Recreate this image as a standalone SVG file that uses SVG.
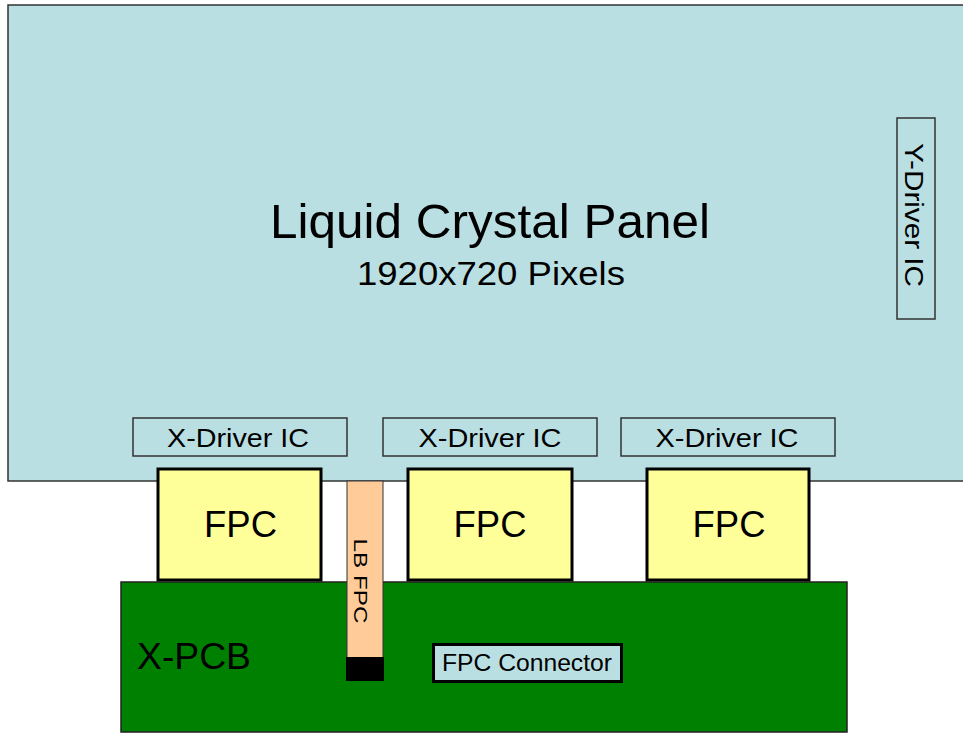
<svg xmlns="http://www.w3.org/2000/svg" width="963" height="733" viewBox="0 0 963 733">
<style>
text{font-family:"Liberation Sans",Arial,sans-serif;fill:#000}
.ic{fill:#BADFE2;stroke:#333;stroke-width:1.5}
.fpc{fill:#FFFF99;stroke:#000;stroke-width:3}
.xd{font-size:26px;text-anchor:middle}
.f{font-size:36px;text-anchor:middle}
</style>
<rect width="963" height="733" fill="#fff"/>
<g id="panel">
<rect x="8" y="5" width="962" height="476" fill="#BADFE2" stroke="#333" stroke-width="1.5"/>
<text x="490" y="238" font-size="48" text-anchor="middle" textLength="440" lengthAdjust="spacingAndGlyphs">Liquid Crystal Panel</text>
<text x="491" y="285" font-size="33" text-anchor="middle" textLength="268" lengthAdjust="spacingAndGlyphs">1920x720 Pixels</text>
</g>
<g id="ydriver">
<rect class="ic" x="897" y="118" width="38" height="201"/>
<text class="xd" transform="translate(905,215) rotate(90)" textLength="144" lengthAdjust="spacingAndGlyphs">Y-Driver IC</text>
</g>
<g id="xdriver1">
<rect class="ic" x="133" y="418" width="214" height="38"/>
<text class="xd" x="238" y="447" textLength="142" lengthAdjust="spacingAndGlyphs">X-Driver IC</text>
</g>
<g id="xdriver2">
<rect class="ic" x="383" y="418" width="214" height="38"/>
<text class="xd" x="490" y="447" textLength="143" lengthAdjust="spacingAndGlyphs">X-Driver IC</text>
</g>
<g id="xdriver3">
<rect class="ic" x="621" y="418" width="214" height="38"/>
<text class="xd" x="727" y="447" textLength="143" lengthAdjust="spacingAndGlyphs">X-Driver IC</text>
</g>
<g id="xpcb">
<rect x="121" y="582" width="726" height="150" fill="#008000" stroke="#222" stroke-width="1.5"/>
<text x="137" y="669" font-size="36" textLength="114" lengthAdjust="spacingAndGlyphs">X-PCB</text>
</g>
<g id="fpc1">
<rect class="fpc" x="158" y="469" width="163" height="111"/>
<text class="f" x="240.5" y="537" textLength="73" lengthAdjust="spacingAndGlyphs">FPC</text>
</g>
<g id="fpc2">
<rect class="fpc" x="408" y="469" width="164" height="111"/>
<text class="f" x="490" y="537" textLength="73" lengthAdjust="spacingAndGlyphs">FPC</text>
</g>
<g id="fpc3">
<rect class="fpc" x="647" y="469" width="162" height="111"/>
<text class="f" x="729" y="537" textLength="73" lengthAdjust="spacingAndGlyphs">FPC</text>
</g>
<g id="lbfpc">
<rect x="347" y="481" width="36" height="177" fill="#FFCC99" stroke="#333" stroke-width="1"/>
<rect x="346" y="657" width="38" height="24" fill="#000"/>
<text transform="translate(354,581) rotate(90)" font-size="19" text-anchor="middle" textLength="85" lengthAdjust="spacingAndGlyphs">LB FPC</text>
</g>
<g id="fpcconnector">
<rect x="433.5" y="644.5" width="188" height="37" fill="#BADFE2" stroke="#000" stroke-width="3"/>
<text x="527" y="671" font-size="23" text-anchor="middle" textLength="170" lengthAdjust="spacingAndGlyphs">FPC Connector</text>
</g>
<g id="connectors"></g>
</svg>
